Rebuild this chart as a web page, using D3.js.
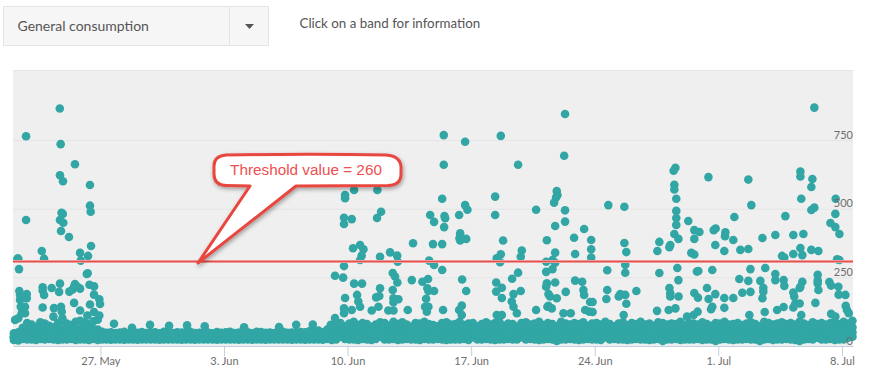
<!DOCTYPE html>
<html>
<head>
<meta charset="utf-8">
<script src="https://cdnjs.cloudflare.com/ajax/libs/d3/7.8.5/d3.min.js"></script>
<style>
  html, body { margin: 0; padding: 0; background: #fff; }
  svg { display: block; font-family: Lato, sans-serif; }
  .axis text { fill: #6e6e6e; font-size: 11px; font-family: Lato, sans-serif; }
</style>
</head>
<body>
<svg id="chart" width="878" height="379"></svg>
<script>
// all x values are days counted from 27 May
const dropdownLabel = 'General consumption';
const hintLabel = 'Click on a band for information';
const calloutLabel = 'Threshold value = 260';
const xTickDays = [0, 7, 14, 21, 28, 35, 42];
const yTicks = [0, 250, 500, 750];
const thresholdDrawn = 310; // the drawn line sits here on the axis

// scattered readings before the quiet period
const pointsMay = [
  [-2.30,865],[-4.21,764],[-2.25,735],[-1.44,662],[-2.29,622],[-2.12,600],[-0.59,586],
  [-0.59,511],[-0.55,489],[-2.20,485],[-2.13,481],[-2.29,459],[-2.10,449],[-4.21,459],
  [-2.23,419],[-1.78,397],[-0.53,364],[-3.32,346],[-1.15,339],[-0.70,328],[-3.19,318],
  [-1.11,311],[-4.65,318],[-4.70,318],[-4.61,280],[-0.72,265],[-0.77,262],[-3.27,214],
  [-3.27,202],[-3.19,186],[-2.76,211],[-2.29,227],[-2.34,197],[-1.44,226],[-1.49,216],
  [-1.15,209],[-1.30,216],[-1.57,206],[-1.76,198],[-0.62,223],[-0.36,217],[-0.36,187],
  [-0.06,170],[-0.02,153],[-0.59,151],[-1.49,157],[-3.27,140],[-2.63,138],[-2.23,143],
  [-2.19,125],[-2.15,101],[-1.15,129],[-2.66,107],[-0.74,111],[-0.36,124],[-0.06,111],
  [-4.59,200],[-4.55,168],[-4.51,143],[-4.46,119],[-4.65,101],[-4.83,95],[-4.17,189],
  [-4.17,174],[-4.27,143],[-4.27,119],[-4.55,186]
];

// little bumps on the flat part of the band
const pointsQuiet = [
  [0.77,81],[1.79,66],[2.81,77],[3.89,74],[4.91,75],[5.91,72],[8.14,68],[10.12,69],[11.09,77],
  [12.03,78],[13.05,77]
];

const pointsJune = [
  [26.32,845],[19.45,768],[22.68,765],[20.66,744],[26.27,693],[19.45,660],[23.66,660],
  [14.37,568],[15.69,568],[13.86,550],[13.86,538],[25.85,564],[25.89,550],[25.81,541],
  [25.70,522],[22.36,544],[19.36,536],[20.66,513],[20.79,496],[26.32,494],[24.68,496],
  [15.90,489],[15.67,466],[18.68,477],[18.90,452],[19.49,473],[19.53,465],[20.32,477],
  [22.36,477],[13.80,467],[14.24,462],[13.80,444],[26.32,453],[19.47,433],[25.76,437],
  [27.40,426],[20.38,410],[20.34,392],[20.72,390],[20.38,384],[26.83,394],[22.81,384],
  [25.29,385],[17.71,374],[18.84,371],[19.36,371],[14.31,356],[14.71,368],[14.90,352],
  [14.80,329],[14.71,313],[16.41,341],[16.81,329],[16.84,307],[15.84,325],[23.87,348],
  [23.81,325],[25.76,340],[26.89,335],[27.80,386],[27.80,352],[27.80,322],[22.68,334],
  [22.45,319],[22.64,305],[18.62,311],[18.90,295],[25.61,313],[25.76,303],[25.25,307],
  [25.61,280],[25.25,270],[13.80,291],[19.36,277],[13.29,256],[13.75,249],[23.66,267],
  [23.32,245],[16.56,266],[16.69,253],[16.82,231],[17.64,240],[18.56,244],[18.24,234],
  [20.49,242],[26.89,238],[27.29,234],[27.36,204],[27.40,186],[25.76,231],[25.29,228],
  [25.25,216],[22.42,231],[22.74,212],[22.42,198],[14.37,227],[14.82,227],[15.84,210],
  [15.80,182],[15.62,177],[16.56,204],[16.60,174],[16.60,159],[16.88,170],[18.52,210],
  [18.58,200],[18.90,200],[20.72,200],[23.81,200],[26.36,197],[23.40,189],[22.74,175],
  [25.38,189],[25.47,180],[25.85,174],[25.32,143],[13.86,175],[14.54,186],[14.61,162],
  [14.71,143],[14.24,131],[18.45,172],[18.39,143],[18.58,143],[18.49,125],[23.30,162],
  [23.40,143],[23.59,119],[13.80,137],[13.29,102],[13.80,119],[20.47,147],[20.32,131],
  [20.47,113],[19.41,131],[17.41,131],[16.31,129],[16.60,129],[15.37,129],[15.75,143],
  [27.74,160],[27.70,125],[24.68,131],[25.38,146],[25.57,137],[22.45,113],[22.74,113],
  [26.23,119],[26.64,119],[27.46,131]
];

const pointsJuly = [
  [40.44,868],[32.57,649],[32.47,638],[39.65,635],[39.65,617],[34.44,615],[40.33,608],
  [36.70,606],[32.51,587],[32.51,570],[40.27,579],[32.62,536],[39.70,536],[41.65,536],
  [28.77,513],[29.68,507],[36.87,513],[40.44,504],[40.27,495],[32.62,492],[32.62,466],
  [32.62,441],[38.80,473],[41.63,481],[35.91,470],[33.30,455],[41.35,448],[41.63,433],
  [34.85,428],[34.74,422],[33.64,422],[33.93,415],[35.40,414],[35.38,400],[32.51,408],
  [32.74,390],[41.86,408],[38.23,404],[39.25,404],[39.82,408],[33.64,390],[37.50,393],
  [35.85,386],[29.68,375],[31.66,379],[34.83,368],[32.28,368],[32.23,360],[39.65,357],
  [36.25,350],[36.70,353],[31.55,346],[35.34,346],[29.79,342],[40.27,350],[40.67,346],
  [33.47,339],[33.64,333],[39.25,335],[39.76,331],[38.61,328],[38.74,322],[29.73,296],
  [41.73,316],[41.86,313],[32.68,284],[36.82,280],[37.66,284],[28.71,276],[34.66,277],
  [33.79,271],[33.87,273],[29.73,267],[31.66,266],[38.23,262],[38.23,240],[40.63,259],
  [40.63,238],[40.63,228],[32.74,240],[36.19,244],[36.70,237],[37.38,237],[38.70,240],
  [38.74,219],[41.29,233],[41.39,220],[39.76,234],[39.65,216],[39.61,211],[41.80,216],
  [32.23,211],[32.28,192],[32.28,180],[40.67,204],[37.55,212],[37.55,198],[37.50,174],
  [34.36,211],[28.71,204],[30.36,200],[36.36,194],[36.82,197],[33.64,193],[39.25,195],
  [39.30,180],[39.36,155],[39.61,155],[39.25,140],[29.45,189],[29.36,180],[29.73,186],
  [34.83,189],[34.45,171],[41.82,187],[42.20,186],[32.75,180],[33.85,176],[35.34,175],
  [35.85,175],[28.66,171],[29.79,154],[27.88,160],[42.22,146],[42.29,131],[42.39,119],
  [34.66,143],[34.59,134],[35.34,139],[40.50,157],[32.57,137],[32.19,131],[31.53,128],
  [27.88,124],[38.33,131],[38.70,142],[37.63,124],[33.83,125],[33.60,113],[36.76,113],
  [33.23,107],[39.70,113],[29.64,113],[41.39,117],[41.63,107]
];

// the dense band: one reading every six hours from bandStart, four numbers per day
const bandStart = -4.9;
const bandStep = 0.25;
const bandHigh = [
  46,50,66,84, 78,70,86,82, 74,68,84,90, 82,76,88,92, 86,80,90,96,
  52,48,50,47, 49,52,46,50, 48,51,47,49, 50,46,52,48, 47,50,49,51,
  52,47,48,50, 49,46,51,48, 50,52,47,49, 48,50,46,52, 51,48,49,47,
  50,52,48,49, 47,51,50,54, 52,56,50,60, 68,78,84,72, 82,88,76,84,
  80,70,78,86, 84,74,88,80, 86,78,70,84, 82,88,80,76, 72,84,86,78,
  80,88,76,82, 84,72,80,86, 78,84,88,74, 82,80,70,84, 86,78,82,88,
  76,84,80,72, 88,82,78,84, 80,86,74,82, 84,78,88,80, 72,82,86,76,
  84,80,88,78, 82,74,86,84, 78,82,80,88, 76,84,82,78, 86,80,74,84,
  82,88,78,80, 84,76,82,86, 80,72,88,84, 78,82,86,80, 84,78,88,82,
  76,86,80,84, 78,84,86,80, 88,82,92
];
const bandMid = [
  34,36,48,56, 54,50,58,54, 52,48,56,60, 58,52,60,62, 58,56,62,60,
  38,36,38,35, 37,39,35,38, 36,38,36,37, 38,35,39,36, 36,38,37,38,
  39,36,36,38, 37,35,38,36, 38,39,36,37, 36,38,35,39, 38,36,37,36,
  38,39,36,37, 36,38,38,40, 39,42,38,44, 48,54,58,50, 56,60,52,58,
  54,48,54,58, 56,50,60,54, 58,54,48,56, 56,60,54,52, 50,56,58,54,
  54,60,52,56, 58,50,54,58, 54,56,60,50, 56,54,48,58, 58,54,56,60,
  52,58,54,50, 60,56,54,58, 54,58,50,56, 58,54,60,54, 50,56,58,52,
  58,54,60,54, 56,50,58,56, 54,56,54,60, 52,58,56,54, 58,54,50,58,
  56,60,54,54, 58,52,56,58, 54,50,60,58, 54,56,58,54, 58,54,60,56,
  52,58,54,58, 54,56,60,54, 58,62,68
];
const bandLower = [
  32,34,38,40, 38,36,40,38, 38,36,40,42, 40,38,42,40, 40,38,42,40,
  36,34,36,34, 35,36,34,36, 34,36,34,35, 36,34,36,34, 34,36,35,36,
  36,34,34,36, 35,34,36,34, 36,36,34,35, 34,36,34,36, 36,34,35,34,
  36,36,34,35, 34,36,36,38, 36,38,36,38, 40,38,42,38, 40,42,38,40,
  40,36,40,42, 40,38,42,38, 40,38,36,40, 40,42,38,38, 38,40,42,38,
  38,42,38,40, 42,38,40,42, 38,40,42,38, 40,38,36,42, 42,38,40,42,
  38,42,40,36, 42,40,38,42, 40,42,38,40, 42,38,42,40, 38,40,42,38,
  42,40,42,38, 40,38,42,40, 38,40,38,42, 38,42,40,38, 42,40,38,42,
  40,42,38,38, 42,38,40,42, 38,36,42,42, 40,38,42,40, 42,38,42,40,
  38,42,40,42, 38,40,42,38, 42,44,50
];
const bandLow = [
  22,20,26,24, 24,22,26,24, 26,24,22,24, 24,26,22,24, 24,22,26,22,
  24,24,23,24, 24,23,24,24, 23,24,24,24, 24,23,24,24, 24,24,23,24,
  24,23,24,24, 24,24,23,24, 24,24,24,23, 24,24,23,24, 24,23,24,24,
  24,24,24,23, 24,24,23,24, 24,24,23,26, 22,24,34,26, 24,24,22,26,
  24,22,26,34, 24,24,26,22, 24,26,24,24, 22,26,24,24, 26,24,22,24,
  24,24,26,22, 32,24,24,26, 24,22,24,24, 26,24,24,32, 24,26,24,22,
  24,26,24,18, 24,24,26,24, 22,24,26,24, 24,22,32,24, 26,24,24,22,
  24,26,24,24, 22,24,26,18, 24,24,26,22, 24,24,24,26, 22,24,24,18,
  24,26,24,22, 24,24,26,24, 24,18,24,26, 22,24,24,26, 24,22,18,24,
  26,24,30,24, 24,26,22,24, 24,30,34
];

const svg = d3.select('#chart');

const plot = { left: 13, right: 853, top: 70, bottom: 346 };
const dateOf = d => new Date(Date.UTC(2018, 4, 27) + d * 864e5);

const xScale = d3.scaleUtc()
  .domain([dateOf(-4.95), dateOf(42.63)])
  .range([plot.left, plot.right]);

const yScale = d3.scaleLinear()
  .domain([0, 1005])
  .range([plot.bottom, plot.top]);

// top controls
svg.append('rect')
  .attr('x', 3.5).attr('y', 6.5)
  .attr('width', 265).attr('height', 39)
  .attr('fill', '#f6f6f6')
  .attr('stroke', '#e4e4e4');
svg.append('line')
  .attr('x1', 229.5).attr('x2', 229.5)
  .attr('y1', 6.5).attr('y2', 45.5)
  .attr('stroke', '#e4e4e4');
svg.append('path')
  .attr('d', 'M245,24 L254,24 L249.5,29 Z')
  .attr('fill', '#555');
svg.append('text')
  .attr('x', 17.5).attr('y', 31)
  .attr('fill', '#555')
  .style('font-size', '14px')
  .text(dropdownLabel);
svg.append('text')
  .attr('x', 299.5).attr('y', 28)
  .attr('fill', '#555')
  .style('font-size', '13.33px')
  .text(hintLabel);

// plot background
svg.append('rect')
  .attr('x', plot.left).attr('y', plot.top)
  .attr('width', plot.right - plot.left)
  .attr('height', plot.bottom - plot.top)
  .attr('fill', '#efefef');
svg.append('line')
  .attr('x1', plot.left).attr('x2', plot.right)
  .attr('y1', plot.top + 0.5).attr('y2', plot.top + 0.5)
  .attr('stroke', '#e6e6e6');

// grid lines
const gridG = svg.append('g')
  .attr('class', 'grid')
  .attr('transform', `translate(${plot.right},0)`)
  .call(d3.axisLeft(yScale)
    .tickValues(yTicks.filter(d => d > 0))
    .tickSize(plot.right - plot.left)
    .tickFormat(''));
gridG.select('.domain').remove();
gridG.selectAll('line').attr('stroke', '#e5e5e5');

// x axis
const xAxisG = svg.append('g')
  .attr('class', 'axis x-axis')
  .attr('transform', `translate(0,${plot.bottom})`)
  .call(d3.axisBottom(xScale)
    .tickValues(xTickDays.map(dateOf))
    .tickSize(10)
    .tickSizeOuter(0)
    .tickFormat(d3.utcFormat('%-d. %b')));
xAxisG.selectAll('line').attr('stroke', '#c0d0e0');
xAxisG.select('.domain').attr('stroke', '#c0d0e0');
xAxisG.selectAll('text').attr('y', 19).attr('dy', 0);

// dots
const band = [bandLow, bandLower, bandMid, bandHigh].flatMap(row =>
  row.map((v, i) => [bandStart + i * bandStep, v]));
const allPoints = band.concat(pointsQuiet, pointsMay, pointsJune, pointsJuly);

svg.append('g').attr('class', 'marks')
  .selectAll('circle')
  .data(allPoints)
  .join('circle')
  .attr('cx', d => xScale(dateOf(d[0])))
  .attr('cy', d => yScale(d[1]))
  .attr('r', 4.3)
  .attr('fill', '#31a6a5');

// y labels sit on top of the dots, just above their grid line
const yAxisG = svg.append('g')
  .attr('class', 'axis y-axis')
  .attr('transform', `translate(${plot.right},0)`)
  .call(d3.axisLeft(yScale).tickValues(yTicks).tickSize(0));
yAxisG.select('.domain').remove();
yAxisG.selectAll('text')
  .attr('x', 0)
  .attr('y', -2)
  .attr('dy', 0);

// threshold line
const thresholdY = Math.round(yScale(thresholdDrawn)) + 0.5;
svg.append('line')
  .attr('x1', plot.left).attr('x2', plot.right)
  .attr('y1', thresholdY).attr('y2', thresholdY)
  .attr('stroke', '#ee9a98').attr('stroke-width', 3);
svg.append('line')
  .attr('x1', plot.left).attr('x2', plot.right)
  .attr('y1', thresholdY).attr('y2', thresholdY)
  .attr('stroke', '#e5504d').attr('stroke-width', 1.2);

// pasted-on callout
const defs = svg.append('defs');
defs.append('filter')
  .attr('id', 'callout-shadow')
  .attr('x', '-20%').attr('y', '-20%')
  .attr('width', '140%').attr('height', '140%')
  .append('feDropShadow')
  .attr('dx', 1).attr('dy', 2)
  .attr('stdDeviation', 2)
  .attr('flood-color', '#000')
  .attr('flood-opacity', 0.35);

svg.append('path')
  .attr('d', 'M226,155 C280,154 340,154 386,155 Q401,156 401,168 L401,174 Q401,185 388,185.5 L296,186 L198,263 L250,186 L226,185.5 Q214,185 214,174 L214,166 Q214,156 226,155 Z')
  .attr('fill', '#fff')
  .attr('stroke', '#e8473f')
  .attr('stroke-width', 3)
  .attr('stroke-linejoin', 'round')
  .attr('filter', 'url(#callout-shadow)');
svg.append('text')
  .attr('x', 306).attr('y', 175)
  .attr('text-anchor', 'middle')
  .attr('fill', '#ee4f4f')
  .style('font-family', '"Liberation Sans", Arial, sans-serif')
  .style('font-size', '15.3px')
  .text(calloutLabel);
</script>
</body>
</html>
